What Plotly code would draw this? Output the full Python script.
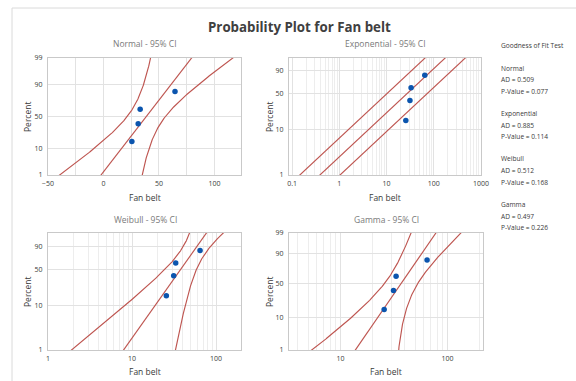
import math
from statistics import NormalDist
import plotly.graph_objects as go

# ---------------- data ----------------
fan_belt = [25.6, 31.3, 33.1, 64.5]
pct_ticks_full = [1, 10, 50, 90, 99]
pct_ticks_short = [1, 10, 50, 90]
panel_titles = ["Normal - 95% CI", "Exponential - 95% CI", "Weibull - 95% CI", "Gamma - 95% CI"]
gof_names = ["Normal", "Exponential", "Weibull", "Gamma"]
gof_ad = [0.509, 0.885, 0.512, 0.497]
gof_p = [0.077, 0.114, 0.168, 0.226]

W, H = 576, 381
ND = NormalDist()
Z975 = 1.959964

# ---------------- helpers ----------------
def digamma(x):
    r = 0.0
    while x < 6:
        r -= 1.0 / x
        x += 1
    f = 1.0 / (x * x)
    return r + math.log(x) - 0.5 / x - f * (1/12 - f * (1/120 - f * (1/252 - f * (1/240 - f / 132))))

def trigamma(x):
    r = 0.0
    while x < 6:
        r += 1.0 / (x * x)
        x += 1
    f = 1.0 / (x * x)
    return r + 1 / x + f / 2 + (1 / x**3) * (1/6 - f * (1/30 - f * (1/42 - f / 30)))

def ginc(a, x):
    if x <= 0:
        return 0.0
    term = 1.0 / a
    s = term
    n = 0
    while True:
        n += 1
        term *= x / (a + n)
        s += term
        if term < s * 1e-16 or n > 20000:
            break
    return min(1.0, s * math.exp(-x + a * math.log(x) - math.lgamma(a)))

def gamma_ppf(p, a):
    lo, hi = 0.0, max(10 * a, 50.0)
    while ginc(a, hi) < p:
        hi *= 2
    for _ in range(90):
        mid = 0.5 * (lo + hi)
        if ginc(a, mid) < p:
            lo = mid
        else:
            hi = mid
    return 0.5 * (lo + hi)

xs = sorted(fan_belt)
n = len(xs)
ranks = [(i + 1 - 0.3) / (n + 0.4) for i in range(n)]
pgrid = [ND.cdf(-2.95 + 5.9 * i / 240) for i in range(241)]

# ---------------- Normal ----------------
mu = sum(xs) / n
sd = math.sqrt(sum((v - mu) ** 2 for v in xs) / (n - 1))
zg = [ND.inv_cdf(p) for p in pgrid]
n_c = [mu + sd * z for z in zg]
n_se = [sd * math.sqrt(1 / n + z * z / (2 * (n - 1))) for z in zg]
n_lo = [c - Z975 * s for c, s in zip(n_c, n_se)]
n_hi = [c + Z975 * s for c, s in zip(n_c, n_se)]
n_pts_y = [ND.inv_cdf(r) for r in ranks]

# ---------------- Exponential ----------------
theta = mu
eg = [-math.log(1 - p) for p in pgrid]
e_c = [theta * v for v in eg]
e_lo = [theta * math.exp(-Z975 / math.sqrt(n)) * v for v in eg]
e_hi = [theta * math.exp(Z975 / math.sqrt(n)) * v for v in eg]
e_pts_y = [-math.log(1 - r) for r in ranks]

# ---------------- Weibull (MLE) ----------------
lx = [math.log(v) for v in xs]
mlx = sum(lx) / n
def wf(b):
    a = sum(v ** b * l for v, l in zip(xs, lx))
    c = sum(v ** b for v in xs)
    return a / c - 1 / b - mlx
blo, bhi = 0.1, 60.0
for _ in range(200):
    bm = 0.5 * (blo + bhi)
    if wf(bm) < 0:
        blo = bm
    else:
        bhi = bm
beta = 0.5 * (blo + bhi)
eta = (sum(v ** beta for v in xs) / n) ** (1 / beta)
u0, b0 = math.log(eta), 1 / beta
def nll(u, b):
    t = 0.0
    for y in lx:
        z = (y - u) / b
        t += math.log(b) - z + math.exp(z)
    return t
h = 1e-4
huu = (nll(u0 + h, b0) - 2 * nll(u0, b0) + nll(u0 - h, b0)) / h**2
hbb = (nll(u0, b0 + h) - 2 * nll(u0, b0) + nll(u0, b0 - h)) / h**2
hub = (nll(u0 + h, b0 + h) - nll(u0 + h, b0 - h) - nll(u0 - h, b0 + h) + nll(u0 - h, b0 - h)) / (4 * h**2)
det = huu * hbb - hub * hub
vuu, vbb, vub = hbb / det, huu / det, -hub / det
w_c, w_lo, w_hi = [], [], []
for v in eg:
    w = math.log(v)
    lxp = u0 + b0 * w
    se = math.sqrt(max(vuu + w * w * vbb + 2 * w * vub, 0))
    w_c.append(math.exp(lxp))
    w_lo.append(math.exp(lxp - Z975 * se))
    w_hi.append(math.exp(lxp + Z975 * se))

# ---------------- Gamma (MLE) ----------------
s_g = math.log(mu) - mlx
k = (3 - s_g + math.sqrt((s_g - 3) ** 2 + 24 * s_g)) / (12 * s_g)
for _ in range(50):
    k -= (math.log(k) - digamma(k) - s_g) / (1 / k - trigamma(k))
gth = mu / k
t1 = trigamma(k)
dd = n * (k * t1 - 1)
var_k = k / dd
var_lt = t1 / dd          # variance of ln(theta)
cov_k_lt = -1 / dd        # covariance of k and ln(theta)
hk = 1e-3 * k
g_y, g_c, g_lo, g_hi = [], [], [], []
for p in pgrid:
    q = gamma_ppf(p, k)
    gk = (math.log(gamma_ppf(p, k + hk)) - math.log(gamma_ppf(p, k - hk))) / (2 * hk)
    se = math.sqrt(max(gk * gk * var_k + var_lt + 2 * gk * cov_k_lt, 0))
    lxp = math.log(gth * q)
    g_y.append(q)
    g_c.append(math.exp(lxp))
    g_lo.append(math.exp(lxp - Z975 * se))
    g_hi.append(math.exp(lxp + Z975 * se))
g_pts_y = [gamma_ppf(r, k) for r in ranks]

# ---------------- figure ----------------
LINE = "#BE5550"
DOT = "#0B55AE"
GRID = "#E2E2E2"
MINOR = "#EDEDED"
FRAME = "#C9C9C9"
TXT = "#3A3A3A"
FONT = "Open Sans"

fig = go.Figure()

def add_panel(idx, xv, ys, curves, py):
    xa = "x" if idx == 1 else f"x{idx}"
    ya = "y" if idx == 1 else f"y{idx}"
    for cx in curves:
        fig.add_trace(go.Scatter(x=cx, y=ys, mode="lines", xaxis=xa, yaxis=ya,
                                 line=dict(color=LINE, width=1.15), hoverinfo="skip", showlegend=False))
    fig.add_trace(go.Scatter(x=xv, y=py, mode="markers", xaxis=xa, yaxis=ya,
                             marker=dict(color=DOT, size=5.5), showlegend=False))

add_panel(1, xs, zg, [n_lo, n_c, n_hi], n_pts_y)
add_panel(2, xs, eg, [e_lo, e_c, e_hi], e_pts_y)
add_panel(3, xs, eg, [w_lo, w_c, w_hi], e_pts_y)
add_panel(4, xs, g_y, [g_lo, g_c, g_hi], g_pts_y)

def px_x(v):
    return v / W

def px_y(v):
    return 1 - v / H

dom_top = [px_y(175), px_y(58)]
dom_bot = [px_y(350), px_y(233)]
dom_left = [px_x(48), px_x(241)]
dom_right_e = [px_x(289), px_x(481)]
dom_right_g = [px_x(289), px_x(483)]

base_axis = dict(showline=True, mirror=True, linecolor=FRAME, linewidth=1,
                 showgrid=True, gridcolor=GRID, gridwidth=1, zeroline=False,
                 automargin=False,
                 ticks="", tickfont=dict(size=7, color=TXT, family=FONT))
xbase = dict(base_axis, ticklabelstandoff=2)
ybase = dict(base_axis, ticklabelstandoff=3)

def decade_minors(lo_exp, hi_exp):
    out = []
    for e in range(lo_exp, hi_exp + 1):
        for d in range(2, 10):
            out.append(d * 10 ** e)
    return out

def ylog_axis(domain, anchor, pcts, pmax):
    tv = [-math.log(1 - p / 100) for p in pcts]
    return dict(ybase, type="log", domain=domain, anchor=anchor,
                range=[math.log10(-math.log(1 - 0.01)), math.log10(-math.log(1 - pmax))],
                tickmode="array", tickvals=tv, ticktext=[str(p) for p in pcts])

layout = dict(
    width=W, height=H, margin=dict(l=0, r=0, t=0, b=0, autoexpand=False),
    paper_bgcolor="white", plot_bgcolor="white", showlegend=False,
    font=dict(family=FONT, color=TXT),
    xaxis=dict(xbase, domain=dom_left, anchor="y", range=[-50, 124],
               tickmode="array", tickvals=[-50, 0, 50, 100],
               minor=dict(tickmode="array", tickvals=[-25, 25, 75], showgrid=True, gridcolor=GRID)),
    yaxis=dict(ybase, domain=dom_top, anchor="x",
               range=[ND.inv_cdf(0.01), ND.inv_cdf(0.99)],
               tickmode="array", tickvals=[ND.inv_cdf(p / 100) for p in pct_ticks_full],
               ticktext=[str(p) for p in pct_ticks_full]),
    xaxis2=dict(xbase, type="log", domain=dom_right_e, anchor="y2",
                range=[math.log10(0.086), 3],
                tickmode="array", tickvals=[0.1, 1, 10, 100, 1000],
                ticktext=["0.1", "1", "10", "100", "1000"],
                minor=dict(tickmode="array", tickvals=decade_minors(-2, 2), showgrid=True, gridcolor=MINOR)),
    yaxis2=ylog_axis(dom_top, "x2", pct_ticks_short, 0.989),
    xaxis3=dict(xbase, type="log", domain=dom_left, anchor="y3",
                range=[0, math.log10(198)],
                tickmode="array", tickvals=[1, 10, 100], ticktext=["1", "10", "100"],
                minor=dict(tickmode="array", tickvals=decade_minors(0, 2), showgrid=True, gridcolor=MINOR)),
    yaxis3=ylog_axis(dom_bot, "x3", pct_ticks_short, 0.99),
    xaxis4=dict(xbase, type="log", domain=dom_right_g, anchor="y4",
                range=[math.log10(3.3), math.log10(215)],
                tickmode="array", tickvals=[10, 100], ticktext=["10", "100"],
                minor=dict(tickmode="array", tickvals=decade_minors(0, 2), showgrid=True, gridcolor=MINOR)),
    yaxis4=dict(ybase, type="log", domain=dom_bot, anchor="x4",
                range=[math.log10(gamma_ppf(0.01, k)), math.log10(gamma_ppf(0.99, k))],
                tickmode="array", tickvals=[gamma_ppf(p / 100, k) for p in pct_ticks_full],
                ticktext=[str(p) for p in pct_ticks_full]),
)
fig.update_layout(**layout)

ann = []
def text(x, y, s, size, color=TXT, xanchor="center", bold=False, angle=0):
    ann.append(dict(x=px_x(x), y=px_y(y), xref="paper", yref="paper", text=f"<b>{s}</b>" if bold else s,
                    showarrow=False, xanchor=xanchor, yanchor="middle", textangle=angle,
                    borderpad=0, font=dict(size=size, color=color, family=FONT)))

text(299, 27, "Probability Plot for Fan belt", 13.3, color="#404040", bold=True)
text(145, 44, panel_titles[0], 8.5, color="#7A7A7A")
text(385, 44, panel_titles[1], 8.5, color="#7A7A7A")
text(145, 219, panel_titles[2], 8.5, color="#7A7A7A")
text(386, 219, panel_titles[3], 8.5, color="#7A7A7A")
for cx in (145, 385):
    text(cx, 197, "Fan belt", 8.5)
for cx in (145, 386):
    text(cx, 371, "Fan belt", 8.5)
for cy in (117, 292):
    text(27, cy, "Percent", 8.5, angle=-90)
    text(269, cy, "Percent", 8.5, angle=-90)

text(500, 45, "Goodness of Fit Test", 6.6, xanchor="left")
for i, name in enumerate(gof_names):
    y0 = 68 + i * 45.5
    text(500, y0, name, 6.6, xanchor="left")
    text(500, y0 + 11.5, f"AD = {gof_ad[i]:.3f}", 6.6, xanchor="left")
    text(500, y0 + 23, f"P-Value = {gof_p[i]:.3f}", 6.6, xanchor="left")

fig.update_layout(annotations=ann,
                  shapes=[dict(type="rect", xref="paper", yref="paper",
                               x0=px_x(12), x1=1.2, y0=-0.2, y1=px_y(8),
                               line=dict(color="#DADADA", width=1), fillcolor="rgba(0,0,0,0)")])

fig.write_html("out.html", config={"displayModeBar": False},
               post_script="document.body.style.margin='0';document.body.style.padding='0';")
